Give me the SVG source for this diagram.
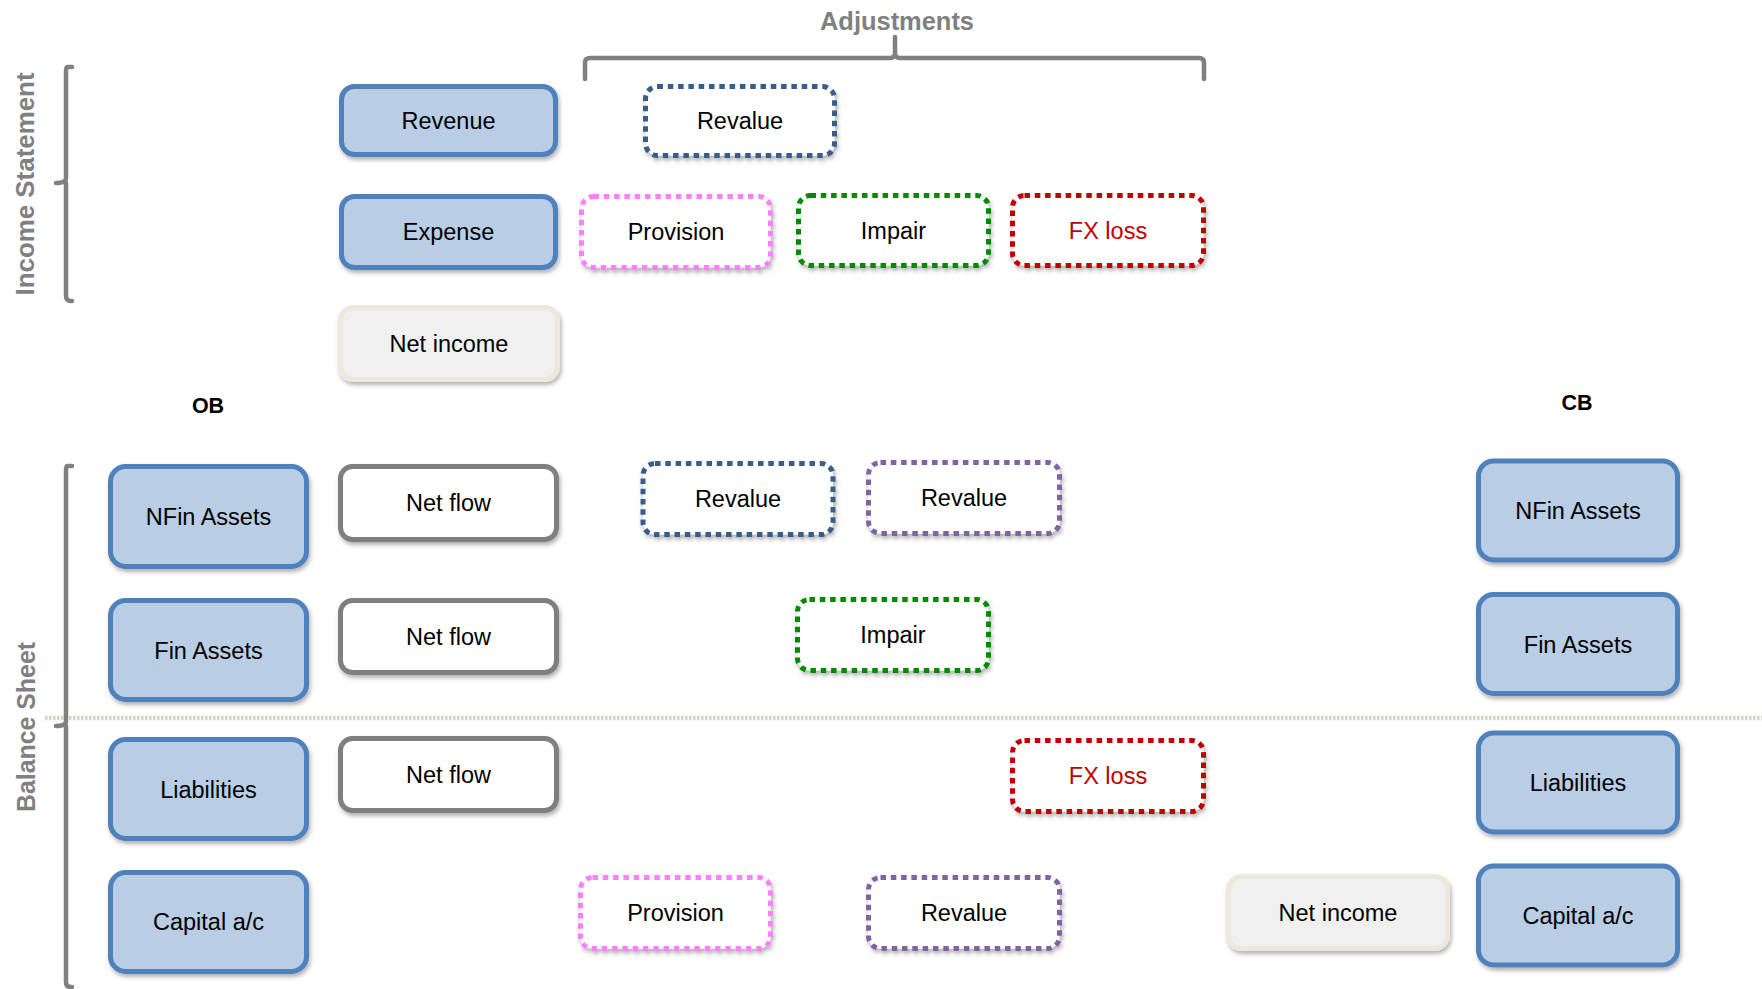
<svg xmlns="http://www.w3.org/2000/svg" width="1762" height="989" viewBox="0 0 1762 989">
<defs>
<filter id="sh" x="-10%" y="-10%" width="120%" height="130%">
<feDropShadow dx="1.5" dy="3" stdDeviation="2" flood-color="#000" flood-opacity="0.3"/>
</filter>
<style>
.blue rect{fill:#b9cde5;stroke:#4f81bd;stroke-width:5;filter:url(#sh)}
.gray rect{fill:#fff;stroke:#7f7f7f;stroke-width:5;filter:url(#sh)}
.ni rect{fill:#f0f0f0;stroke:#ebe8dc;stroke-width:5;filter:url(#sh)}
.dot rect{fill:#fff;stroke-width:5;stroke-dasharray:5.5 4.8;filter:url(#sh)}
.dblue rect{stroke:#385d8a}
.dpurple rect{stroke:#8064a2}
.dgreen rect{stroke:#008a00}
.dred rect{stroke:#c00000}
.dpink rect{stroke:#ff80ff}
text{font-family:'Liberation Sans',Arial,sans-serif}
.lbl{font-size:23.5px;text-anchor:middle;dominant-baseline:central;fill:#000}
.red{fill:#c00000}
.hdr{font-size:21.5px;font-weight:bold;text-anchor:middle;dominant-baseline:central;fill:#000}
.sec{font-size:25px;font-weight:bold;text-anchor:middle;dominant-baseline:central;fill:#808080}
.brk{fill:none;stroke:#808080;stroke-width:4.5;stroke-linecap:round;stroke-linejoin:round}
</style>
</defs>
<rect width="1762" height="989" fill="#fff"/>

<g id="decor">
<line x1="45" y1="718" x2="1762" y2="718" stroke="#d6d5c6" stroke-width="4.5" stroke-dasharray="2.5 1.5"/>
<path class="brk" d="M72,67 L67,67 Q66,67 66,72 L66,178 Q66,183 56,183 M66,183 L66,296 Q66,301 71,301 L72,301"/>
<path class="brk" d="M72,466 L67,466 Q66,466 66,471 L66,721 Q66,726 56,726 M66,726 L66,982 Q66,987 71,987 L72,987"/>
<path class="brk" d="M585,79 L585,63 Q585,58 590,58 L890,58 Q895,58 895,53 L895,37 M895,53 Q895,58 900,58 L1199,58 Q1204,58 1204,63 L1204,79"/>
<text class="sec" x="897" y="21" textLength="154" lengthAdjust="spacingAndGlyphs">Adjustments</text>
<text class="sec" transform="translate(25,184) rotate(-90)" textLength="223" lengthAdjust="spacingAndGlyphs">Income Statement</text>
<text class="sec" transform="translate(26,727) rotate(-90)" textLength="170" lengthAdjust="spacingAndGlyphs">Balance Sheet</text>
<text class="hdr" x="208" y="406">OB</text>
<text class="hdr" x="1577" y="403">CB</text>
</g>

<g id="connectors"></g>

<g id="is-revenue" class="blue"><rect x="341.5" y="86.5" width="214" height="68" rx="13"/><text class="lbl" x="448.5" y="121">Revenue</text></g>
<g id="is-expense" class="blue"><rect x="341.5" y="196.5" width="214" height="71" rx="13"/><text class="lbl" x="448.5" y="232">Expense</text></g>
<g id="is-netincome" class="ni"><rect x="340.5" y="307.5" width="217" height="72" rx="13"/><text class="lbl" x="449" y="344">Net income</text></g>

<g id="is-revalue" class="dot dblue"><rect x="645.5" y="86.5" width="189" height="69" rx="12"/><text class="lbl" x="740" y="121">Revalue</text></g>
<g id="is-provision" class="dot dpink"><rect x="581.5" y="196.5" width="189" height="71" rx="12"/><text class="lbl" x="676" y="232">Provision</text></g>
<g id="is-impair" class="dot dgreen"><rect x="798.5" y="195.5" width="190" height="70" rx="12"/><text class="lbl" x="893.5" y="231">Impair</text></g>
<g id="is-fxloss" class="dot dred"><rect x="1012.5" y="195.5" width="191" height="70" rx="12"/><text class="lbl red" x="1108" y="231">FX loss</text></g>

<g id="ob-nfin" class="blue"><rect x="110.5" y="466.5" width="196" height="100" rx="15"/><text class="lbl" x="208.5" y="517">NFin Assets</text></g>
<g id="ob-fin" class="blue"><rect x="110.5" y="600.5" width="196" height="99" rx="15"/><text class="lbl" x="208.5" y="650.5">Fin Assets</text></g>
<g id="ob-liab" class="blue"><rect x="110.5" y="739.5" width="196" height="99" rx="15"/><text class="lbl" x="208.5" y="789.5">Liabilities</text></g>
<g id="ob-capital" class="blue"><rect x="110.5" y="872.5" width="196" height="99" rx="15"/><text class="lbl" x="208.5" y="922">Capital a/c</text></g>

<g id="netflow-1" class="gray"><rect x="340.5" y="466.5" width="216" height="73" rx="12"/><text class="lbl" x="448.5" y="503">Net flow</text></g>
<g id="netflow-2" class="gray"><rect x="340.5" y="600.5" width="216" height="72" rx="12"/><text class="lbl" x="448.5" y="636.5">Net flow</text></g>
<g id="netflow-3" class="gray"><rect x="340.5" y="738.5" width="216" height="72" rx="12"/><text class="lbl" x="448.5" y="774.5">Net flow</text></g>

<g id="bs-revalue-blue" class="dot dblue"><rect x="643" y="463.5" width="190" height="71" rx="12"/><text class="lbl" x="738" y="499">Revalue</text></g>
<g id="bs-revalue-purple" class="dot dpurple"><rect x="868.5" y="462.5" width="191" height="71" rx="12"/><text class="lbl" x="964" y="498">Revalue</text></g>
<g id="bs-impair" class="dot dgreen"><rect x="797.5" y="599.5" width="191" height="71" rx="12"/><text class="lbl" x="893" y="635">Impair</text></g>
<g id="bs-fxloss" class="dot dred"><rect x="1012.5" y="740.5" width="191" height="71" rx="12"/><text class="lbl red" x="1108" y="776">FX loss</text></g>
<g id="bs-provision" class="dot dpink"><rect x="580.5" y="877.5" width="190" height="71" rx="12"/><text class="lbl" x="675.5" y="913">Provision</text></g>
<g id="bs-revalue-purple-2" class="dot dpurple"><rect x="868.5" y="877.5" width="191" height="71" rx="12"/><text class="lbl" x="964" y="913">Revalue</text></g>
<g id="bs-netincome" class="ni"><rect x="1228.5" y="876.5" width="219" height="72" rx="13"/><text class="lbl" x="1338" y="913">Net income</text></g>

<g id="cb-nfin" class="blue"><rect x="1478.5" y="461" width="199" height="99" rx="15"/><text class="lbl" x="1578" y="511">NFin Assets</text></g>
<g id="cb-fin" class="blue"><rect x="1478.5" y="594.5" width="199" height="99" rx="15"/><text class="lbl" x="1578" y="644.5">Fin Assets</text></g>
<g id="cb-liab" class="blue"><rect x="1478.5" y="733" width="199" height="99" rx="15"/><text class="lbl" x="1578" y="783">Liabilities</text></g>
<g id="cb-capital" class="blue"><rect x="1478.5" y="866" width="199" height="99" rx="15"/><text class="lbl" x="1578" y="916">Capital a/c</text></g>
</svg>
